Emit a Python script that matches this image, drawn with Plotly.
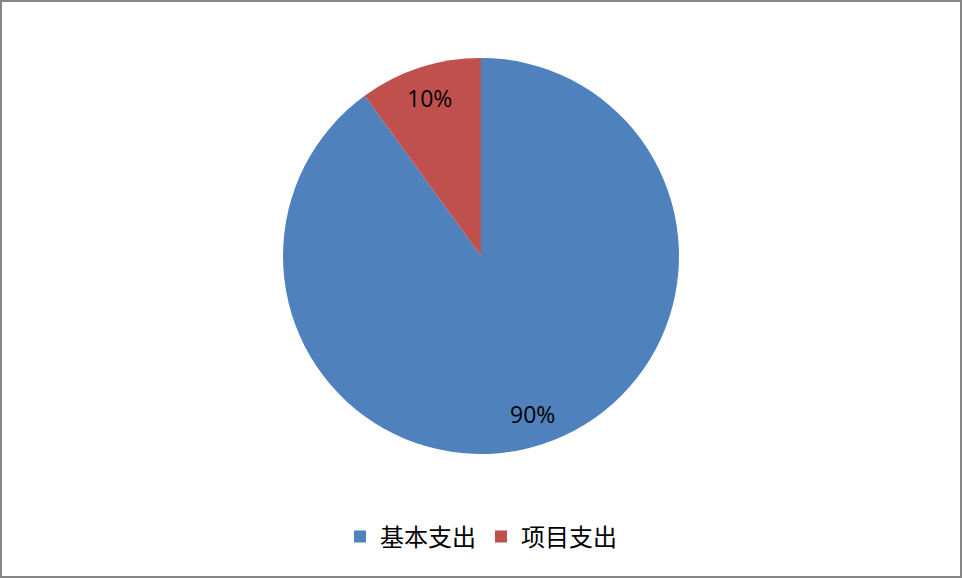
import math
import plotly.graph_objects as go

labels = ["基本支出", "项目支出"]
values = [90, 10]
colors = ["#4F81BD", "#C0504D"]

W, H = 962, 578
cx, cy, r = 481, 256, 198
label_frac = 0.84

fig = go.Figure(go.Pie(
    labels=labels,
    values=values,
    marker=dict(colors=colors, line=dict(width=0)),
    sort=False,
    direction="clockwise",
    rotation=0,
    textinfo="none",
    domain=dict(x=[(cx - r) / W, (cx + r) / W], y=[1 - (cy + r) / H, 1 - (cy - r) / H]),
    hoverinfo="label+percent",
))

# data labels placed at a fixed fraction of the radius, at each slice's mid-angle
total = sum(values)
annotations = []
start = 0.0
for v in values:
    mid = (start + v / 2) / total * 2 * math.pi  # clockwise from 12 o'clock
    start += v
    dx = math.sin(mid) * r * label_frac
    dy = math.cos(mid) * r * label_frac
    annotations.append(dict(
        x=(cx + dx) / W, y=1 - (cy - dy) / H, xref="paper", yref="paper",
        text=f"{round(v / total * 100)}%", showarrow=False,
        font=dict(family="Open Sans, Liberation Sans, sans-serif", size=23, color="black"),
        xanchor="center", yanchor="middle",
    ))

fig.update_layout(
    width=W, height=H,
    margin=dict(l=0, r=0, t=0, b=0),
    paper_bgcolor="white",
    plot_bgcolor="white",
    showlegend=True,
    legend=dict(
        orientation="h",
        x=0.5, xanchor="center",
        y=1 - 537 / H, yanchor="middle",
        font=dict(family="Noto Sans CJK SC, sans-serif", size=24, color="black"),
        traceorder="normal",
    ),
    annotations=annotations,
    shapes=[dict(
        type="rect", xref="paper", yref="paper",
        x0=1 / W, x1=1 - 1 / W, y0=1 / H, y1=1 - 1 / H,
        line=dict(color="#868686", width=2),
    )],
)

fig.write_html(
    "out.html",
    config={"displayModeBar": False},
    post_script="document.body.style.margin='0';document.body.style.overflow='hidden';",
)
